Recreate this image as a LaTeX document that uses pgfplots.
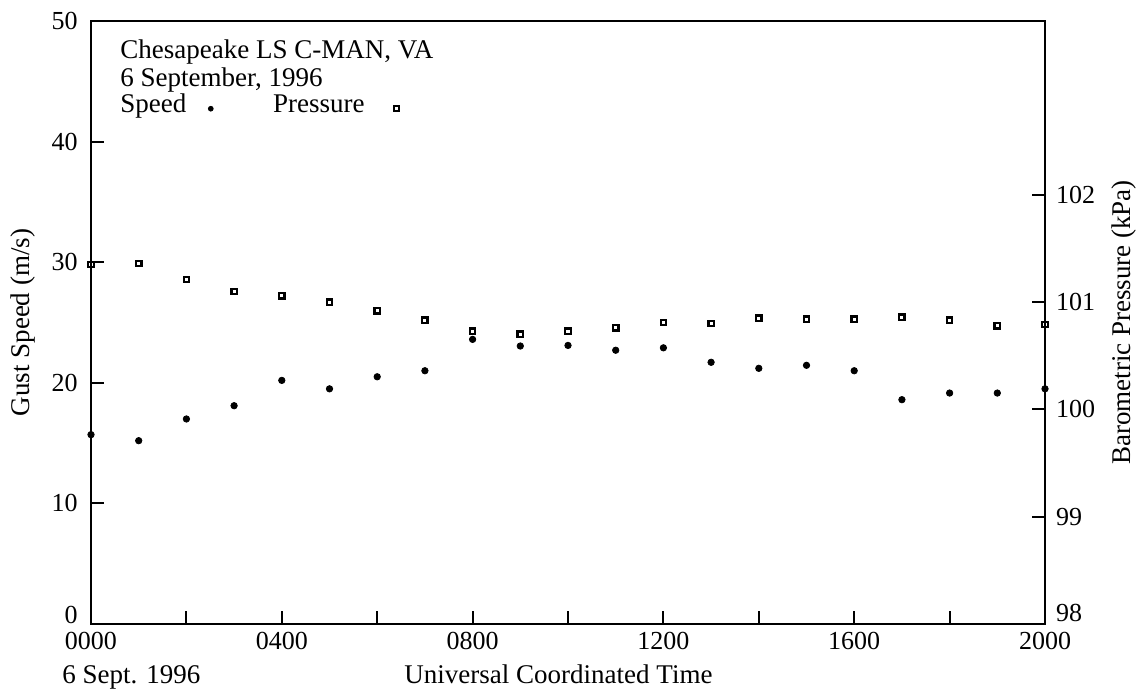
\documentclass[border=0pt]{standalone}
\usepackage{fontspec}
\setmainfont{Liberation Serif}
\usepackage{pgfplots}
\usepackage{pgfplotstable}
\pgfplotsset{compat=1.18}
\pgfplotstableread{
h speed pres
0  15.7  101.35
1  15.2  101.36
2  17.0  101.21
3  18.1  101.10
4  20.2  101.06
5  19.5  101.00
6  20.5  100.92
7  21.0  100.83
8  23.6  100.73
9  23.05 100.70
10 23.1  100.73
11 22.7  100.76
12 22.9  100.81
13 21.7  100.80
14 21.2  100.85
15 21.45 100.84
16 21.0  100.84
17 18.6  100.86
18 19.15 100.83
19 19.15 100.78
20 19.5  100.79
}\data
\begin{document}
\begin{tikzpicture}
\useasboundingbox (-45.5pt,-35.5pt) rectangle (526pt,312pt);
\pgfplotsset{
  common/.style={
    scale only axis, width=477pt, height=301.5pt,
    xmin=0, xmax=20, clip=false,
    axis line style={line width=1.4pt},
    major tick length=6.75pt,
    tick style={line width=1pt, black},
    tick label style={font=\fontsize{13}{15}\selectfont},
    label style={font=\fontsize{13.5}{15}\selectfont},
    /pgf/number format/assume math mode=true,
  }
}
\begin{axis}[common,
  ymin=0, ymax=50,
  ytick={10,20,30,40,50},
  extra y ticks={0},
  extra y tick style={yticklabel style={yshift=4.5pt}},
  xtick={0,2,...,20},
  xticklabels={0000,,0400,,0800,,1200,,1600,,2000},
  xtick pos=bottom, ytick pos=left, tick align=inside,
  yticklabel style={xshift=-3.2pt},
  xticklabel style={yshift=-0.7pt},
  ylabel={Gust Speed (m/s)},
  ylabel style={at={(rel axis cs:-0.064,0.5)}, anchor=base},
  xlabel={Universal Coordinated Time},
  xlabel style={at={(rel axis cs:0.49,-0.099)}, anchor=base},
]
\addplot[only marks, mark=*, mark size=1.6pt, black] table[x=h, y=speed]{\data};
\node[anchor=base west, inner sep=0pt, font=\fontsize{13.5}{15}\selectfont] at (rel axis cs:-0.0304,-0.099) {6 Sept. 1996};
\node[anchor=base west, inner sep=0pt, font=\fontsize{13.5}{15}\selectfont] at (rel axis cs:0.0304,0.9386) {Chesapeake LS C-MAN, VA};
\node[anchor=base west, inner sep=0pt, font=\fontsize{13.5}{15}\selectfont] at (rel axis cs:0.0304,0.8922) {6 September, 1996};
\end{axis}
\begin{axis}[common,
  ymin=98, ymax=103.62,
  hide x axis,
  axis y line*=right,
  ytick={99,100,101,102},
  extra y ticks={98},
  extra y tick style={yticklabel style={yshift=5.5pt}},
  tick align=inside,
  yticklabel style={xshift=2pt},
  ylabel={Barometric Pressure (kPa)},
  ylabel style={at={(rel axis cs:1.0901,0.5)}, anchor=base},
  legend columns=2,
  legend plot pos=right,
  legend image code/.code={\path (-3pt,0pt) (3pt,0pt); \draw[#1, mark size=1.2pt] plot coordinates {(0pt,2pt)};},
  legend style={draw=none, fill=none, inner sep=0pt,
    at={(rel axis cs:0.0304,0.8796)}, anchor=north west,
    font=\fontsize{13.5}{15}\selectfont,
    nodes={inner sep=0pt}, cells={anchor=base west},
    /tikz/column 1/.append style={column sep=9pt},
    /tikz/column 2/.append style={column sep=28pt},
    /tikz/column 3/.append style={column sep=12.75pt},
  },
]
\addlegendimage{only marks, mark=*, black}
\addlegendentry{Speed}
\addplot[only marks, mark=square, mark size=1.35pt, black, mark options={line width=1.15pt}] table[x=h, y=pres]{\data};
\addlegendentry{Pressure}
\end{axis}
\end{tikzpicture}
\end{document}
